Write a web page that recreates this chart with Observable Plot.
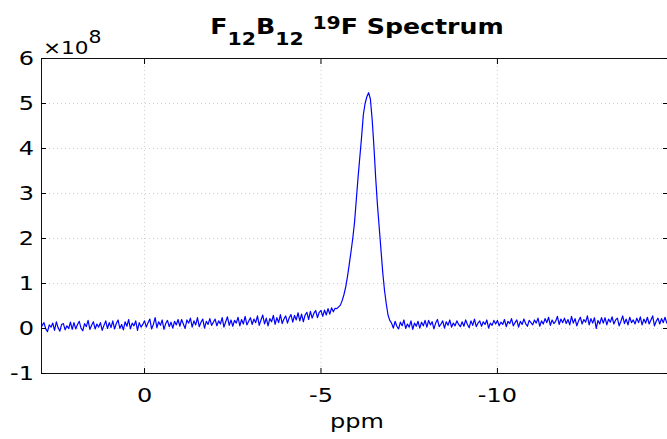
<!DOCTYPE html>
<html>
<head>
<meta charset="utf-8">
<script src="https://cdn.jsdelivr.net/npm/d3@7"></script>
<script src="https://cdn.jsdelivr.net/npm/@observablehq/plot@0.6"></script>
<style>
  body { margin: 0; background: #fff; font-family: "DejaVu Sans", sans-serif; }
  #wrap { position: relative; width: 667px; height: 439px; overflow: hidden; }
  #chart { position: absolute; left: 0; top: 0; }
  .ov { position: absolute; white-space: nowrap; color: #000; }
  #title { left: 44px; width: 626px; top: 17px; text-align: center; font-weight: bold;
           font-size: 21px; line-height: 21px; transform: scaleX(1.2); transform-origin: center; }
  #title .sub { font-size: 17px; position: relative; top: 11px; }
  #title .sup { font-size: 17px; position: relative; top: -5px; }
  #exp { left: 43px; top: 38px; font-size: 18px; line-height: 19px; transform: scaleX(1.2); transform-origin: left; }
  #exp .sup { font-size: 17px; position: relative; top: -11px; }
  #xlabel { left: 44px; width: 626px; top: 411px; text-align: center; font-size: 20px; line-height: 20px;
            transform: scaleX(1.2); transform-origin: center; }
</style>
</head>
<body>
<div id="wrap">
  <div id="chart"></div>
  <div id="title" class="ov">F<span class="sub">12</span>B<span class="sub">12</span> <span class="sup">19</span>F Spectrum</div>
  <div id="exp" class="ov">×10<span class="sup">8</span></div>
  <div id="xlabel" class="ov">ppm</div>
</div>
<script>
// Spectrum sampled every 0.05 ppm, starting at 3.0 ppm (values in units of 1e8)
const ppmStart = 3.0;
const ppmStep = 0.05;
const intensity = [
  // 3.0 .. 2.05
  0.10,-0.02,0.07,0.13,-0.01,-0.07,0.08,0.03,0.12,-0.04,0.15,0.02,-0.06,0.09,0.11,-0.03,0.06,0.00,0.14,-0.02,
  // 2.0 .. 1.05
  0.13,-0.01,0.09,0.16,0.01,-0.05,0.11,0.04,0.18,-0.02,0.07,0.15,-0.01,0.10,0.03,0.13,-0.04,0.07,0.17,0.00,
  // 1.0 .. 0.05
  0.13,0.02,0.17,-0.01,0.11,0.19,0.00,0.09,-0.03,0.15,0.05,0.20,-0.01,0.12,0.06,0.17,-0.04,0.13,0.03,0.09,
  // 0 .. -0.95
  0.17,0.03,0.13,0.21,-0.01,0.09,0.24,0.02,0.15,0.07,0.19,-0.02,0.11,0.18,0.04,0.14,0.01,0.16,0.08,0.20,
  // -1 .. -1.95
  0.05,0.20,0.10,0.00,0.19,0.12,0.23,0.03,0.17,0.08,0.24,0.04,0.14,0.21,0.01,0.16,0.09,0.22,0.07,0.14,
  // -2 .. -2.95
  0.21,0.06,0.17,0.10,0.24,0.03,0.15,0.26,0.07,0.19,0.05,0.18,0.12,0.25,0.06,0.20,0.10,0.27,0.08,0.16,
  // -3 .. -3.95
  0.24,0.09,0.21,0.13,0.28,0.07,0.19,0.30,0.10,0.23,0.06,0.22,0.15,0.29,0.09,0.24,0.13,0.31,0.11,0.21,
  // -4 .. -4.95
  0.28,0.12,0.24,0.31,0.14,0.29,0.19,0.35,0.17,0.32,0.15,0.30,0.36,0.20,0.38,0.23,0.34,0.40,0.24,0.36,
  // -5 .. -5.95 (rise of peak)
  0.40,0.27,0.41,0.30,0.44,0.32,0.46,0.37,0.45,0.44,0.48,0.52,0.62,0.75,0.92,1.15,1.42,1.70,2.00,2.35,
  // -6 .. -6.95 (peak)
  2.85,3.35,3.80,4.25,4.75,5.00,5.15,5.24,5.10,4.65,4.05,3.35,2.75,2.25,1.75,1.25,0.85,0.55,0.30,0.18,
  // -7 .. -7.95
  0.12,0.01,0.16,0.05,-0.01,0.14,0.06,0.19,0.00,0.10,0.03,0.17,-0.02,0.12,0.05,0.16,0.01,0.14,0.06,0.18,
  // -8 .. -8.95
  0.03,0.18,0.08,0.15,-0.01,0.12,0.20,0.04,0.10,0.17,0.01,0.15,0.07,0.19,0.03,0.12,0.06,0.17,0.09,0.04,
  // -9 .. -9.95
  0.15,0.05,0.19,0.09,0.02,0.17,0.07,0.21,0.04,0.12,0.17,0.05,0.15,0.09,0.19,0.01,0.12,0.07,0.18,0.10,
  // -10 .. -10.95
  0.18,0.06,0.14,0.09,0.20,0.04,0.16,0.11,0.22,0.06,0.13,0.19,0.03,0.16,0.09,0.21,0.11,0.05,0.18,0.13,
  // -11 .. -11.95
  0.08,0.19,0.12,0.23,0.05,0.17,0.10,0.22,0.13,0.25,0.07,0.19,0.11,0.16,0.27,0.09,0.21,0.13,0.23,0.11,
  // -12 .. -12.95
  0.20,0.08,0.27,0.12,0.22,0.06,0.17,0.25,0.10,0.20,0.14,0.28,0.08,0.22,0.12,0.24,0.00,0.18,0.10,0.24,
  // -13 .. -13.95
  0.12,0.24,0.08,0.21,0.14,0.26,0.10,0.19,0.23,0.06,0.16,0.28,0.11,0.21,0.08,0.25,0.13,0.19,0.10,0.23,
  // -14 .. -14.8
  0.13,0.26,0.08,0.21,0.12,0.25,0.10,0.19,0.28,0.06,0.16,0.23,0.10,0.22,0.13,0.25,0.12
];
const xTicks = [0, -5, -10];
const yTicks = [-1, 0, 1, 2, 3, 4, 5, 6];
const xDomain = [2.92, -14.82];
const yDomain = [-1, 6];

const spectrum = intensity.map((v, i) => ({ ppm: +(ppmStart - i * ppmStep).toFixed(2), value: v }));
const fmt = d => String(d);
const gridStyle = { stroke: "#cfcfcf", strokeOpacity: 1, strokeDasharray: "1,3" };

const chart = Plot.plot({
  width: 667,
  height: 439,
  marginTop: 58,
  marginBottom: 66,
  marginLeft: 41,
  marginRight: 0,
  style: { fontFamily: "DejaVu Sans", fontSize: "20px", color: "#000", background: "transparent", overflow: "visible" },
  x: { domain: xDomain },
  y: { domain: yDomain },
  marks: [
    Plot.gridX(xTicks, gridStyle),
    Plot.gridY(yTicks, gridStyle),
    Plot.lineY(spectrum, { x: "ppm", y: "value", stroke: "#0000ff", strokeWidth: 1.2, clip: true }),
    Plot.frame({ stroke: "#111" }),
    Plot.axisX(xTicks, { anchor: "bottom", tickSize: -5, tickPadding: 19, tickFormat: fmt, label: null }),
    Plot.axisX(xTicks, { anchor: "top", tickSize: -5, tickFormat: () => "", label: null }),
    Plot.axisY(yTicks, { anchor: "left", tickSize: -5, tickPadding: 12.5, tickFormat: fmt, label: null }),
    Plot.axisY(yTicks, { anchor: "right", tickSize: -5, tickFormat: () => "", label: null })
  ]
});

// widen tick labels horizontally to match the reference's stretched type
chart.querySelectorAll("text").forEach(t => {
  const tr = t.getAttribute("transform") || "";
  t.setAttribute("transform", (tr + " scale(1.2,1)").trim());
});
document.getElementById("chart").appendChild(chart);
</script>
</body>
</html>
